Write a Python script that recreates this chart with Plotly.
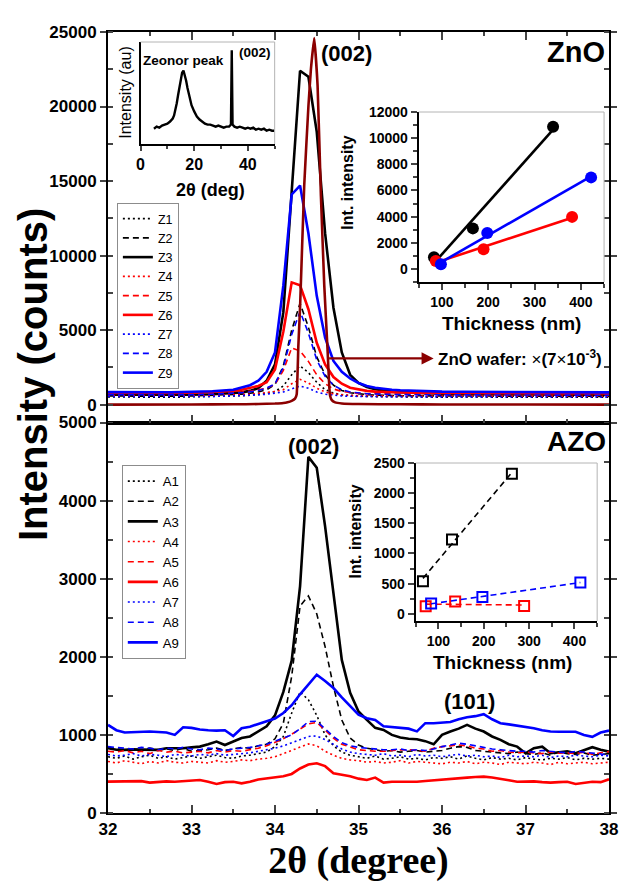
import numpy as np
import plotly.graph_objects as go

# ---------------- ZnO films: XRD scans around the (002) reflection ----------------
tt_zno = [32.0, 32.25, 32.5, 32.75, 33.0, 33.25, 33.5, 33.6, 33.7, 33.8, 33.9, 34.0, 34.1,
          34.2, 34.3, 34.4, 34.5, 34.6, 34.7, 34.8, 34.9, 35.0, 35.1, 35.2, 35.3, 35.4, 35.5,
          35.75, 36.0, 36.25, 36.5, 36.75, 37.0, 37.25, 37.5, 37.75, 38.0]
z1 = [520, 500, 510, 490, 520, 540, 580, 600, 630, 680, 760, 880, 1250, 2000, 2600, 2150, 1500,
      1000, 780, 650, 600, 570, 550, 540, 530, 520, 520, 510, 500, 510, 500, 490, 500, 490, 500, 490, 500]
z2 = [580, 560, 570, 560, 580, 610, 660, 700, 760, 850, 1000, 1350, 2600, 5000, 6800, 5200, 3200,
      2000, 1300, 950, 800, 720, 670, 640, 620, 610, 600, 590, 580, 575, 570, 565, 560, 560, 555, 560, 550]
z3 = [660, 650, 660, 650, 670, 700, 760, 820, 920, 1100, 1600, 2700, 6200, 14000, 22400, 22000, 18300,
      11500, 6500, 3500, 2000, 1450, 1180, 1030, 940, 880, 840, 770, 730, 710, 700, 690, 680, 670, 660, 660, 650]
z4 = [600, 590, 600, 580, 600, 620, 650, 670, 700, 740, 800, 880, 1000, 1400, 1700, 1450, 1100,
      850, 720, 650, 620, 600, 590, 585, 580, 580, 575, 580, 570, 575, 570, 570, 565, 570, 560, 565, 560]
z5 = [700, 690, 700, 690, 710, 740, 800, 840, 900, 980, 1100, 1350, 2300, 3800, 3600, 2900, 2000,
      1400, 1050, 880, 800, 760, 730, 720, 710, 700, 700, 690, 690, 680, 690, 680, 680, 670, 680, 670, 670]
z6 = [780, 770, 790, 780, 800, 840, 920, 1000, 1100, 1250, 1500, 2350, 4900, 8200, 8000, 6400, 4150,
      2700, 1850, 1400, 1130, 1000, 920, 870, 840, 820, 810, 790, 780, 780, 770, 770, 760, 760, 750, 760, 750]
z7 = [540, 530, 530, 520, 540, 550, 580, 600, 620, 650, 700, 760, 850, 1050, 1250, 1100, 850,
      700, 620, 580, 560, 550, 540, 540, 530, 530, 530, 520, 520, 520, 515, 520, 510, 515, 510, 510, 505]
z8 = [660, 650, 660, 650, 670, 700, 760, 800, 860, 950, 1100, 1400, 2500, 4700, 6250, 4800, 3000,
      1900, 1300, 1000, 850, 770, 730, 710, 690, 680, 670, 660, 655, 650, 650, 645, 640, 640, 635, 640, 630]
z9 = [840, 820, 840, 830, 860, 900, 1000, 1130, 1300, 1600, 2200, 3500, 8000, 14100, 14700, 11500, 7300,
      4500, 2930, 2200, 1750, 1450, 1250, 1130, 1050, 1000, 960, 900, 870, 860, 850, 840, 840, 830, 830, 820, 820]
zno_names = ["Z1", "Z2", "Z3", "Z4", "Z5", "Z6", "Z7", "Z8", "Z9"]

# single-crystal ZnO wafer, already scaled by 7e-3
tt_wafer = [32.0, 33.0, 33.5, 33.8, 34.0, 34.1, 34.15, 34.2, 34.24, 34.26, 34.28, 34.3, 34.35, 34.4,
            34.43, 34.47, 34.51, 34.55, 34.59, 34.63, 34.65, 34.66, 34.68, 34.72, 34.8, 35.0, 35.5,
            36.0, 37.0, 38.0]
i_wafer = [0, 10, 20, 40, 70, 110, 160, 250, 400, 700, 4000, 6500, 14700, 20000, 22500, 24600, 21400,
           14000, 8000, 3600, 1200, 600, 300, 150, 80, 40, 20, 10, 5, 0]

# ---------------- AZO films ----------------
tt_azo = [32.0, 32.1, 32.2, 32.3, 32.4, 32.5, 32.6, 32.7, 32.8, 32.9,
          33.0, 33.1, 33.2, 33.3, 33.4, 33.5, 33.6, 33.7, 33.8, 33.9,
          34.0, 34.1, 34.2, 34.3, 34.4, 34.5, 34.6, 34.7, 34.8, 34.9,
          35.0, 35.1, 35.2, 35.3, 35.4, 35.5, 35.6, 35.7, 35.8, 35.9,
          36.0, 36.1, 36.2, 36.3, 36.4, 36.5, 36.6, 36.7, 36.8, 36.9,
          37.0, 37.1, 37.2, 37.3, 37.4, 37.5, 37.6, 37.7, 37.8, 37.9, 38.0]
a1 = [720, 700, 730, 690, 720, 740, 700, 720, 690, 710,
      730, 700, 720, 740, 710, 700, 730, 740, 760, 780,
      850, 980, 1280, 1550, 1450, 1250, 1000, 860, 780, 740,
      720, 700, 730, 690, 700, 720, 690, 700, 680, 710,
      700, 720, 690, 730, 700, 680, 710, 690, 700, 680,
      710, 690, 680, 700, 690, 710, 680, 700, 690, 700, 690]
a2 = [840, 820, 810, 820, 800, 830, 810, 820, 800, 830,
      790, 800, 810, 830, 800, 820, 840, 830, 860, 880,
      950, 1150, 1750, 2650, 2780, 2550, 2130, 1620, 1190, 960,
      870, 830, 808, 790, 800, 780, 790, 800, 780, 790,
      800, 830, 850, 840, 800, 790, 780, 770, 760, 780,
      760, 750, 770, 740, 780, 760, 750, 770, 740, 750, 760]
a3 = [829, 810, 808, 815, 812, 810, 808, 829, 825, 829,
      840, 850, 880, 915, 870, 915, 960, 980, 1040, 1110,
      1250, 1550, 1950, 2900, 4560, 4420, 3670, 2780, 1960, 1540,
      1300, 1192, 1090, 1064, 1000, 966, 950, 944, 920, 880,
      1000, 1043, 1080, 1128, 1080, 1043, 980, 936, 880, 850,
      765, 830, 850, 765, 780, 790, 765, 800, 842, 810, 786]
a4 = [660, 640, 670, 650, 630, 660, 640, 670, 650, 640,
      660, 650, 640, 670, 650, 660, 680, 670, 690, 700,
      720, 760, 800, 850, 885, 860, 790, 740, 700, 680,
      670, 650, 660, 640, 650, 670, 640, 660, 650, 640,
      630, 650, 640, 660, 630, 650, 640, 620, 650, 640,
      630, 650, 640, 620, 650, 630, 640, 650, 630, 640, 650]
a5 = [790, 780, 800, 770, 790, 760, 800, 780, 790, 770,
      780, 790, 770, 800, 780, 800, 790, 810, 830, 860,
      900, 950, 1010, 1080, 1140, 1160, 1060, 960, 880, 840,
      810, 800, 790, 790, 800, 808, 810, 800, 790, 830,
      850, 860, 872, 860, 830, 820, 790, 800, 780, 770,
      780, 770, 760, 780, 765, 770, 760, 780, 750, 770, 786]
a6 = [402, 405, 400, 410, 408, 389, 400, 405, 400, 410,
      415, 423, 400, 372, 395, 400, 380, 400, 430, 444,
      450, 470, 500, 570, 620, 637, 600, 509, 490, 470,
      440, 423, 453, 389, 400, 400, 405, 400, 410, 420,
      430, 440, 450, 453, 460, 466, 455, 440, 420, 400,
      400, 405, 395, 389, 395, 400, 372, 390, 400, 395, 432]
a7 = [750, 730, 740, 760, 730, 750, 740, 720, 750, 740,
      730, 750, 740, 760, 740, 750, 760, 770, 790, 810,
      830, 860, 900, 950, 980, 987, 940, 880, 820, 780,
      760, 750, 740, 760, 730, 740, 720, 750, 730, 740,
      720, 740, 750, 730, 740, 720, 730, 710, 740, 720,
      730, 720, 740, 710, 730, 720, 740, 730, 720, 740, 730]
a8 = [850, 840, 830, 820, 840, 830, 810, 830, 820, 840,
      820, 810, 830, 820, 800, 820, 830, 840, 860, 880,
      920, 960, 1000, 1080, 1170, 1175, 1080, 980, 900, 860,
      840, 830, 820, 810, 810, 820, 800, 810, 800, 820,
      850, 870, 893, 880, 860, 840, 820, 810, 800, 790,
      790, 780, 800, 790, 780, 770, 790, 780, 770, 760, 744]
a9 = [1128, 1060, 1030, 1035, 1040, 1043, 1038, 1030, 1000, 1098,
      1090, 1070, 1060, 1055, 1060, 985, 1085, 1105, 1140, 1170,
      1210, 1280, 1380, 1520, 1650, 1770, 1690, 1600, 1480, 1370,
      1260, 1214, 1190, 1110, 1100, 1095, 1080, 1045, 1150, 1150,
      1160, 1165, 1200, 1226, 1240, 1265, 1200, 1150, 1135, 1120,
      1100, 1085, 1060, 1043, 1040, 1038, 1040, 1000, 975, 1030, 1055]
azo_names = ["A1", "A2", "A3", "A4", "A5", "A6", "A7", "A8", "A9"]

# ---------------- Zeonor substrate survey scan (inset) ----------------
tt_zeonor = [5, 6, 7, 8, 9, 10, 11, 12, 12.5, 13, 13.5, 14, 14.5, 15, 15.5, 16, 16.5, 17, 17.5,
             18, 18.5, 19, 20, 21, 22, 23, 24, 25, 26, 27, 28, 29, 30, 31, 32, 33, 33.7, 34.0,
             34.3, 35, 36, 37, 38, 39, 40, 41, 42, 43, 44, 45, 46, 47, 48, 49, 50]
i_zeonor = [0.15, 0.17, 0.16, 0.18, 0.19, 0.20, 0.22, 0.25, 0.28, 0.33, 0.40, 0.48, 0.57, 0.65, 0.70,
            0.72, 0.68, 0.62, 0.55, 0.48, 0.43, 0.38, 0.32, 0.27, 0.24, 0.22, 0.20, 0.19, 0.19, 0.18,
            0.17, 0.18, 0.17, 0.16, 0.17, 0.17, 0.19, 0.92, 0.19, 0.17, 0.16, 0.17, 0.16, 0.15, 0.16,
            0.15, 0.16, 0.14, 0.15, 0.14, 0.15, 0.13, 0.14, 0.13, 0.13]

# ---------------- integrated (002) intensity vs film thickness ----------------
zno_thk = {"black": [83, 167, 340], "red": [87, 190, 381], "blue": [98, 198, 422]}
zno_int = {"black": [890, 3100, 10870], "red": [600, 1500, 3980], "blue": [350, 2750, 7000]}
azo_thk = {"black": [66, 130, 262], "red": [72, 137, 289], "blue": [84, 197, 413]}
azo_int = {"black": [540, 1230, 2320], "red": [125, 205, 130], "blue": [170, 280, 520]}

# ---------------- styling ----------------
SANS = "Arial, Liberation Sans, sans-serif"
SERIF = "Times New Roman, Liberation Serif, serif"
COL = {"black": "#000000", "red": "#ff0000", "blue": "#0000ff"}
WAFER = "#8b0000"
styles = [("black", "dot"), ("black", "dash"), ("black", "solid"),
          ("red", "dot"), ("red", "dash"), ("red", "solid"),
          ("blue", "dot"), ("blue", "dash"), ("blue", "solid")]
DASH = {"dot": "2px,3px", "dash": "6px,4px", "solid": "solid"}
WID = {"dot": 1.6, "dash": 1.6, "solid": 2.6}

# pixel helpers for the plotting frame (left 108, right 616, top 32, bottom 813)
L, R, T, B = 108, 616, 32, 813
def px(xp):
    return (xp - L) / (R - L)
def py(yp):
    return (B - yp) / (B - T)

fig = go.Figure()

for name, ys, (c, d) in zip(zno_names, [z1, z2, z3, z4, z5, z6, z7, z8, z9], styles):
    fig.add_trace(go.Scatter(x=tt_zno, y=ys, name=name, mode="lines", xaxis="x2", yaxis="y2",
                             line=dict(color=COL[c], dash=DASH[d], width=WID[d]), legend="legend"))
fig.add_trace(go.Scatter(x=tt_wafer, y=i_wafer, mode="lines", xaxis="x2", yaxis="y2", showlegend=False,
                         line=dict(color=WAFER, width=2.6, shape="spline", smoothing=0.3)))

for name, ys, (c, d) in zip(azo_names, [a1, a2, a3, a4, a5, a6, a7, a8, a9], styles):
    fig.add_trace(go.Scatter(x=tt_azo, y=ys, name=name, mode="lines", xaxis="x", yaxis="y",
                             line=dict(color=COL[c], dash=DASH[d], width=WID[d]), legend="legend2"))

# Zeonor inset
fig.add_trace(go.Scatter(x=tt_zeonor, y=i_zeonor, mode="lines", xaxis="x3", yaxis="y3", showlegend=False,
                         line=dict(color="black", width=2.4)))

# ZnO integrated intensity: points + linear fits
for c in ["black", "red", "blue"]:
    k = np.polyfit(zno_thk[c], zno_int[c], 1)
    xf = np.array([min(zno_thk[c]), max(zno_thk[c])])
    fig.add_trace(go.Scatter(x=xf, y=np.polyval(k, xf), mode="lines", xaxis="x4", yaxis="y4",
                             showlegend=False, line=dict(color=COL[c], width=2.6)))
    fig.add_trace(go.Scatter(x=zno_thk[c], y=zno_int[c], mode="markers", xaxis="x4", yaxis="y4",
                             showlegend=False, marker=dict(color=COL[c], size=12, symbol="circle")))

# AZO integrated intensity: open squares + dashed linear fits
for c in ["black", "red", "blue"]:
    k = np.polyfit(azo_thk[c], azo_int[c], 1)
    xf = np.array([min(azo_thk[c]), max(azo_thk[c])])
    fig.add_trace(go.Scatter(x=xf, y=np.polyval(k, xf), mode="lines", xaxis="x5", yaxis="y5",
                             showlegend=False, line=dict(color=COL[c], width=1.6, dash="6px,4px")))
    fig.add_trace(go.Scatter(x=azo_thk[c], y=azo_int[c], mode="markers", xaxis="x5", yaxis="y5",
                             showlegend=False,
                             marker=dict(color=COL[c], size=10, symbol="square-open", line=dict(width=2, color=COL[c]))))

axline = dict(showline=True, linewidth=2, linecolor="black", showgrid=False, zeroline=False)
tf_main = dict(family=SANS, size=17, color="black", weight="bold")
tf_inset = dict(family=SANS, size=14, color="black", weight="bold")

def xy_dom(x0, x1, y0, y1):
    return [px(x0), px(x1)], [py(y1), py(y0)]

d3x, d3y = xy_dom(141, 277, 42, 144)
d4x, d4y = xy_dom(423, 611, 112, 282)
d5x, d5y = xy_dom(420, 604, 463, 621)

fig.update_layout(
    width=630, height=888,
    margin=dict(l=L, r=630 - R, t=T, b=888 - B),
    paper_bgcolor="white", plot_bgcolor="white",
    font=dict(family=SANS, color="black"),
    xaxis=dict(domain=[0, 1], anchor="y", range=[32, 38], tick0=32, dtick=1,
               ticks="inside", ticklen=8, tickwidth=2, mirror=True,
               minor=dict(dtick=0.5, ticks="inside", ticklen=4, tickwidth=1.5),
               tickfont=tf_main,
               title=dict(text="2θ (degree)", font=dict(family=SERIF, size=38, weight="bold"), standoff=8),
               **axline),
    yaxis=dict(domain=[0, 0.5], anchor="x", range=[0, 5000], tick0=0, dtick=1000, tickformat="d",
               ticks="outside", ticklen=6, tickwidth=2, mirror="ticks",
               minor=dict(dtick=500, ticks="inside", ticklen=5, tickwidth=1.5),
               tickfont=tf_main, **axline),
    xaxis2=dict(domain=[0, 1], anchor="y2", range=[32, 38], matches="x", tick0=32, dtick=1,
                ticks="inside", ticklen=8, tickwidth=2, mirror="allticks", showticklabels=False,
                minor=dict(dtick=0.5, ticks="inside", ticklen=4, tickwidth=1.5), **axline),
    yaxis2=dict(domain=[0.5, 1], anchor="x2", range=[-1200, 25000], tick0=0, dtick=5000, tickformat="d",
                ticks="outside", ticklen=6, tickwidth=2, mirror="ticks",
                minor=dict(tick0=0, dtick=2500, ticks="inside", ticklen=5, tickwidth=1.5),
                tickfont=tf_main, **axline),
    xaxis3=dict(domain=d3x, anchor="y3", range=[0, 50], tick0=0, dtick=20, ticks="outside",
                ticklen=5, tickwidth=1.5, minor=dict(dtick=10, ticks="outside", ticklen=3),
                tickfont=dict(family=SANS, size=16, weight="bold"), **axline),
    yaxis3=dict(domain=d3y, anchor="x3", range=[0, 1], showticklabels=False, ticks="", **axline),
    xaxis4=dict(domain=d4x, anchor="y4", range=[50, 450], tick0=0, dtick=100, ticks="outside",
                ticklen=6, tickwidth=1.5, minor=dict(dtick=50, ticks="outside", ticklen=4),
                tickfont=tf_inset, **axline),
    yaxis4=dict(domain=d4y, anchor="x4", range=[-1000, 12000], tick0=0, dtick=2000, tickformat="d",
                ticks="outside", ticklen=6, tickwidth=1.5, minor=dict(dtick=1000, ticks="outside", ticklen=4),
                tickfont=tf_inset, **axline),
    xaxis5=dict(domain=d5x, anchor="y5", range=[50, 450], tick0=0, dtick=100, ticks="outside",
                ticklen=6, tickwidth=1.5, minor=dict(dtick=50, ticks="outside", ticklen=4),
                tickfont=tf_inset, **axline),
    yaxis5=dict(domain=d5y, anchor="x5", range=[-120, 2500], tick0=0, dtick=500, tickformat="d",
                ticks="outside", ticklen=6, tickwidth=1.5, minor=dict(dtick=250, ticks="outside", ticklen=4),
                tickfont=tf_inset, **axline),
    legend=dict(x=px(117), y=py(203), xanchor="left", yanchor="top", bgcolor="rgba(255,255,255,0)",
                bordercolor="#8c8c8c", borderwidth=1, font=dict(family=SANS, size=12.5),
                tracegroupgap=0, itemwidth=30),
    legend2=dict(x=px(122), y=py(465), xanchor="left", yanchor="top", bgcolor="rgba(255,255,255,0)",
                 bordercolor="#8c8c8c", borderwidth=1, font=dict(family=SANS, size=13.2),
                 tracegroupgap=0, itemwidth=30),
)

# light frame on the top/right of each inset
shapes = []
for dx, dy in [(d3x, d3y), (d4x, d4y), (d5x, d5y)]:
    shapes.append(dict(type="line", xref="paper", yref="paper", x0=dx[0], x1=dx[1], y0=dy[1], y1=dy[1],
                       line=dict(color="#b4b4b4", width=1)))
    shapes.append(dict(type="line", xref="paper", yref="paper", x0=dx[1], x1=dx[1], y0=dy[0], y1=dy[1],
                       line=dict(color="#b4b4b4", width=1)))
fig.update_layout(shapes=shapes)

def label(text, xp, yp, size, bold=True, angle=0, family=SANS):
    fig.add_annotation(text=text, x=px(xp), y=py(yp), xref="paper", yref="paper", showarrow=False,
                       xanchor="center", yanchor="middle", textangle=angle,
                       font=dict(family=family, size=size, color="black", weight="bold" if bold else "normal"))

label("Intensity (counts)", 32, 375, 40, angle=-90)
label("(002)", 350, 53, 22)
label("ZnO", 583, 52, 29)
label("AZO", 583, 442, 28)
label("(002)", 316, 446, 22)
label("(101)", 475, 701, 22)
label("Zeonor peak", 185, 60, 13.5)
label("(002)", 257, 52, 13.5)
label("Intensity (au)", 126, 93, 16, bold=False, angle=-90)
label("2θ (deg)", 212, 190, 18)
label("Int. intensity", 350, 183, 16, angle=-90)
label("Thickness (nm)", 517, 323, 19)
label("Int. intensity", 358, 532, 16, angle=-90)
label("Thickness (nm)", 508, 662, 19)

# wafer pointer
fig.add_annotation(x=35.9, y=3100, xref="x2", yref="y2", ax=34.63, ay=3100, axref="x2", ayref="y2",
                   text="", showarrow=True, arrowhead=2, arrowsize=1.1, arrowwidth=2.2, arrowcolor=WAFER,
                   standoff=0, startstandoff=0)
fig.add_annotation(x=35.93, y=3100, xref="x2", yref="y2", xanchor="left", yanchor="middle", showarrow=False,
                   text="<b>ZnO wafer: </b>×<b>(7</b>×<b>10<sup>-3</sup>)</b>",
                   font=dict(family=SANS, size=17, color="black"))

fig.write_html("out.html")
